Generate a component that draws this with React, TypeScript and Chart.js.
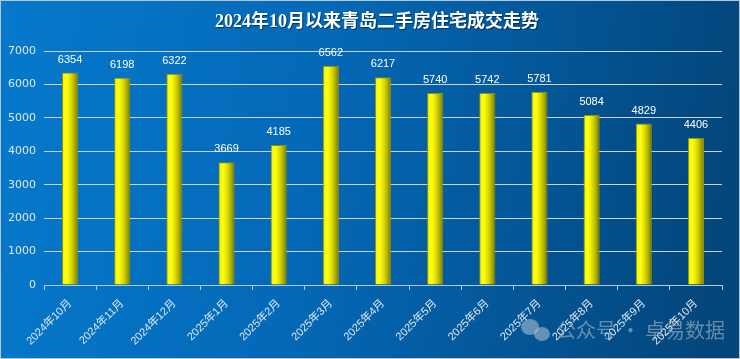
import React, { useEffect, useRef } from "react";
import { Chart, registerables } from "chart.js";

Chart.register(...registerables);

const titleText = "2024年10月以来青岛二手房住宅成交走势";
const categories = [
  "2024年10月", "2024年11月", "2024年12月", "2025年1月", "2025年2月", "2025年3月",
  "2025年4月", "2025年5月", "2025年6月", "2025年7月", "2025年8月", "2025年9月", "2025年10月",
];
const volumes = [6354, 6198, 6322, 3669, 4185, 6562, 6217, 5740, 5742, 5781, 5084, 4829, 4406];
const yTicks = [0, 1000, 2000, 3000, 4000, 5000, 6000, 7000];
const watermark = "公众号 · 卓易数据";

const BAR_PCT = 0.31;

const bgPlugin = {
  id: "bgPlugin",
  beforeDraw(chart: any) {
    const { ctx, width, height } = chart;
    ctx.save();
    const g = ctx.createLinearGradient(0, 0, width, height * 0.3);
    g.addColorStop(0, "#0679cc");
    g.addColorStop(0.45, "#0468b6");
    g.addColorStop(1, "#03467b");
    ctx.fillStyle = g;
    ctx.fillRect(0, 0, width, height);
    ctx.strokeStyle = "#b8c4d0";
    ctx.lineWidth = 1;
    ctx.strokeRect(0.5, 0.5, width - 1, height - 1);
    ctx.fillStyle = "#ffffff";
    ctx.font = "bold 18px 'Liberation Serif', 'Noto Sans CJK SC', serif";
    ctx.textAlign = "center";
    ctx.textBaseline = "middle";
    ctx.shadowColor = "rgba(0,0,0,0.5)";
    ctx.shadowOffsetX = 1;
    ctx.shadowOffsetY = 1;
    ctx.shadowBlur = 1;
    ctx.fillText(titleText, 377, 22);
    ctx.restore();
  },
};

const labelPlugin = {
  id: "labelPlugin",
  afterDatasetsDraw(chart: any) {
    const { ctx } = chart;
    const meta = chart.getDatasetMeta(0);
    ctx.save();
    ctx.fillStyle = "#ffffff";
    ctx.font = "11px 'Liberation Sans', 'DejaVu Sans', sans-serif";
    ctx.textAlign = "center";
    ctx.textBaseline = "middle";
    meta.data.forEach((el: any, i: number) => {
      ctx.fillText(String(volumes[i]), el.x, el.y - 13);
    });
    ctx.restore();
  },
  afterDraw(chart: any) {
    const { ctx } = chart;
    ctx.save();
    ctx.globalAlpha = 0.5;
    ctx.fillStyle = "#c8d0d8";
    ctx.beginPath();
    ctx.ellipse(530, 327, 9, 8, 0, 0, Math.PI * 2);
    ctx.fill();
    ctx.beginPath();
    ctx.ellipse(542, 334, 8, 7, 0, 0, Math.PI * 2);
    ctx.fill();
    ctx.font = "20px 'Noto Sans CJK SC', sans-serif";
    ctx.textAlign = "left";
    ctx.textBaseline = "middle";
    ctx.fillText(watermark, 556, 330);
    ctx.restore();
  },
};

export default function App() {
  const ref = useRef<HTMLCanvasElement | null>(null);
  useEffect(() => {
    document.body.style.margin = "0";
    const canvas = ref.current!;
    const chart = new Chart(canvas, {
      type: "bar",
      data: {
        labels: categories,
        datasets: [
          {
            data: volumes,
            barPercentage: BAR_PCT,
            categoryPercentage: 1,
            borderWidth: 1,
            borderColor: "#8f8f10",
            backgroundColor: (c: any) => {
              const ch = c.chart;
              const xs = ch.scales?.x;
              if (!xs || !ch.chartArea) return "#eeee00";
              const cx = xs.getPixelForValue(c.dataIndex);
              const w = (ch.chartArea.width / categories.length) * BAR_PCT;
              const g = ch.ctx.createLinearGradient(cx - w / 2, 0, cx + w / 2, 0);
              g.addColorStop(0, "#f2f200");
              g.addColorStop(0.3, "#ffff10");
              g.addColorStop(0.6, "#d4d400");
              g.addColorStop(1, "#7a7a00");
              return g;
            },
          },
        ],
      },
      options: {
        responsive: false,
        animation: false,
        devicePixelRatio: 1,
        layout: { padding: { left: 8, right: 18, top: 51, bottom: 0 } },
        plugins: {
          legend: { display: false },
          title: { display: false },
          tooltip: { enabled: false },
        },
        scales: {
          x: {
            offset: true,
            grid: {
              display: true,
              offset: true,
              drawOnChartArea: false,
              drawTicks: true,
              tickLength: 5,
              color: "#b8c8d8",
            },
            border: { display: true, color: "#b8c8d8" },
            ticks: {
              color: "#dce8f4",
              maxRotation: 45,
              minRotation: 45,
              autoSkip: false,
              padding: 7,
              font: { size: 11, family: "'Liberation Sans', 'Noto Sans CJK SC', sans-serif" },
            },
            afterFit: (s: any) => {
              s.height = 74;
            },
          },
          y: {
            min: 0,
            max: 7000,
            afterBuildTicks: (s: any) => {
              s.ticks = yTicks.map((v) => ({ value: v }));
            },
            grid: { color: "#c8d4e0", drawTicks: false, lineWidth: 1 },
            border: { display: false },
            ticks: {
              color: "#dce8f4",
              padding: 8,
              callback: (v: any) => String(v),
              font: { size: 11, family: "'DejaVu Sans', 'Liberation Sans', sans-serif" },
            },
            afterFit: (s: any) => {
              s.width = 36;
            },
          },
        },
      },
      plugins: [bgPlugin, labelPlugin],
    });
    return () => chart.destroy();
  }, []);
  return (
    <div style={{ width: 740, height: 359 }}>
      <canvas ref={ref} width={740} height={359} style={{ display: "block" }} />
    </div>
  );
}
